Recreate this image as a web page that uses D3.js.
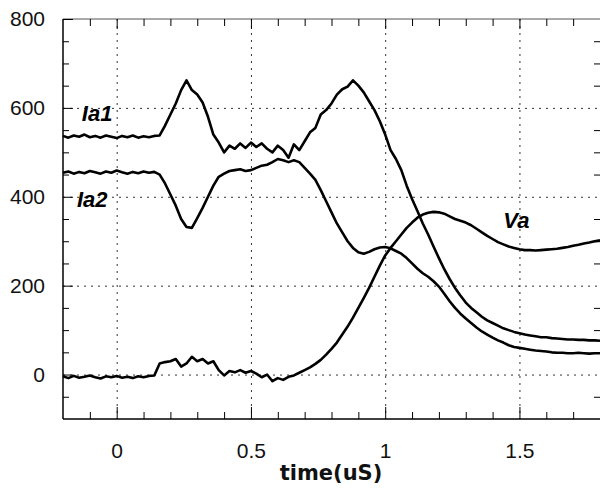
<!DOCTYPE html>
<html>
<head>
<meta charset="utf-8">
<script src="https://cdn.jsdelivr.net/npm/d3@7"></script>
<style>
  body { margin: 0; background: #fff; }
  svg { display: block; }
</style>
</head>
<body>
<div id="chart"></div>
<script>
// time axis in microseconds, one sample every 0.02 uS
const timeUs = [
  -0.20, -0.18, -0.16, -0.14, -0.12, -0.10, -0.08, -0.06, -0.04, -0.02,
  0.00, 0.02, 0.04, 0.06, 0.08, 0.10, 0.12, 0.14, 0.16, 0.18,
  0.20, 0.22, 0.24, 0.26, 0.28, 0.30, 0.32, 0.34, 0.36, 0.38,
  0.40, 0.42, 0.44, 0.46, 0.48, 0.50, 0.52, 0.54, 0.56, 0.58,
  0.60, 0.62, 0.64, 0.66, 0.68, 0.70, 0.72, 0.74, 0.76, 0.78,
  0.80, 0.82, 0.84, 0.86, 0.88, 0.90, 0.92, 0.94, 0.96, 0.98,
  1.00, 1.02, 1.04, 1.06, 1.08, 1.10, 1.12, 1.14, 1.16, 1.18,
  1.20, 1.22, 1.24, 1.26, 1.28, 1.30, 1.32, 1.34, 1.36, 1.38,
  1.40, 1.42, 1.44, 1.46, 1.48, 1.50, 1.52, 1.54, 1.56, 1.58,
  1.60, 1.62, 1.64, 1.66, 1.68, 1.70, 1.72, 1.74, 1.76, 1.78,
  1.80
];

const ia1 = [
  537, 533, 538, 535, 540, 534, 537, 533, 538, 535,
  532, 537, 534, 538, 533, 536, 534, 537, 538, 560,
  585, 610, 640, 662, 640, 630, 612, 580, 540, 522,
  500, 515, 508, 520, 510, 522, 512, 520, 508, 500,
  515, 505, 488, 518, 505, 525, 545, 555, 585, 595,
  610, 630, 642, 648, 662, 650, 635, 615, 595, 570,
  540, 505, 485, 460, 425, 395, 368, 340, 315, 288,
  262, 237, 215, 195, 178, 162, 150, 140, 130, 122,
  116, 110, 104, 100, 96, 93, 90, 88, 86, 84,
  84, 82, 81, 80, 79, 79, 78, 78, 77, 77,
  76
];

const ia2 = [
  454, 457, 452, 456, 453, 458, 455, 452, 457, 454,
  459, 455, 452, 456, 453, 457, 454, 456, 450, 430,
  405, 380, 350, 332, 330, 352, 375, 400, 425, 445,
  452, 458, 460, 462, 458, 460, 465, 470, 472, 478,
  485, 482, 478, 482, 478, 465, 452, 438, 415, 390,
  365, 340, 320, 300, 285, 275, 272, 276, 282, 286,
  287, 284, 278, 272, 262, 250, 238, 228, 220, 210,
  198, 182, 165, 150, 137, 126, 116, 106, 97, 90,
  83, 77, 72, 66, 62, 60, 58, 56, 54, 53,
  52, 50, 49, 49, 48, 48, 49, 48, 47, 48,
  48
];

const va = [
  -4, -8, -3, -7, -5, -2, -6, -9, -4, -6,
  -3, -7, -5, -8, -4, -6, -3, -2, 25, 28,
  30, 35, 18, 25, 40, 30, 35, 25, 30, 10,
  -2, 8, 5, 10, 4, 8, 2, -6, 0, -15,
  -8, -12, -5, -2, 4, 10, 16, 24, 33, 45,
  58, 72, 90, 108, 128, 150, 172, 195, 220, 245,
  268, 285, 300, 315, 330, 342, 353, 360, 364, 366,
  365, 362, 356, 350, 346, 342, 336, 328, 320, 312,
  305, 298, 293, 288, 285, 282, 280, 280, 279, 280,
  281, 282, 283, 285, 287, 290, 292, 295, 297, 300,
  302
];

const yTicks = [0, 200, 400, 600, 800];
const yMinor = [-50, 50, 100, 150, 250, 300, 350, 450, 500, 550, 650, 700, 750];
const xTicks = [0, 0.5, 1, 1.5];
const xMinor = [-0.1, 0.1, 0.2, 0.3, 0.4, 0.6, 0.7, 0.8, 0.9, 1.1, 1.2, 1.3, 1.4, 1.6, 1.7];
const gridY = [0, 200, 400, 600];

// trace labels placed near their curves (t, value)
const traceLabels = [
  { name: "Ia1", t: -0.13, v: 571 },
  { name: "Ia2", t: -0.148, v: 378 },
  { name: "Va", t: 1.44, v: 330 }
];

const width = 600, height = 493;
const margin = { top: 19, right: 0, bottom: 74, left: 63 };
const innerW = width - margin.left - margin.right;
const innerH = height - margin.top - margin.bottom;

const x = d3.scaleLinear().domain([-0.2, 1.8]).range([0, innerW]);
const y = d3.scaleLinear().domain([-100, 800]).range([innerH, 0]);

const svg = d3.select("#chart").append("svg")
  .attr("width", width)
  .attr("height", height);

const g = svg.append("g")
  .attr("transform", `translate(${margin.left},${margin.top})`);

// dotted grid
g.append("g")
  .call(d3.axisLeft(y).tickValues(gridY).tickSize(-innerW).tickFormat(""))
  .call(a => a.select(".domain").remove())
  .call(a => a.selectAll("line")
    .attr("stroke", "#333")
    .attr("stroke-dasharray", "2,5"));

g.append("g")
  .attr("transform", `translate(0,${innerH})`)
  .call(d3.axisBottom(x).tickValues(xTicks).tickSize(innerH).tickFormat(""))
  .call(a => a.select(".domain").remove())
  .call(a => a.selectAll("line")
    .attr("transform", `translate(0,${-innerH})`)
    .attr("stroke", "#333")
    .attr("stroke-dasharray", "2,5"));

// top frame
g.append("line")
  .attr("x1", 0).attr("x2", innerW).attr("y1", 0).attr("y2", 0)
  .attr("stroke", "#555").attr("stroke-width", 1);

// minor ticks on all sides
g.append("g")
  .call(d3.axisLeft(y).tickValues(yMinor).tickSize(-6).tickFormat(""))
  .call(a => a.select(".domain").remove());
g.append("g")
  .attr("transform", `translate(${innerW},0)`)
  .call(d3.axisRight(y).tickValues(yMinor).tickSize(-6).tickFormat(""))
  .call(a => a.select(".domain").remove());
g.append("g")
  .attr("transform", `translate(0,${innerH})`)
  .call(d3.axisBottom(x).tickValues(xMinor).tickSize(-7).tickFormat(""))
  .call(a => a.select(".domain").remove());
g.append("g")
  .call(d3.axisTop(x).tickValues(xMinor).tickSize(-7).tickFormat(""))
  .call(a => a.select(".domain").remove());
g.append("g")
  .call(d3.axisTop(x).tickValues(xTicks).tickSize(-10).tickFormat(""))
  .call(a => a.select(".domain").remove());

// main axes with labels
const yAxis = g.append("g")
  .call(d3.axisLeft(y).tickValues(yTicks).tickSize(-10).tickPadding(18).tickFormat(d3.format("d")));
yAxis.select(".domain").attr("stroke-width", 1.5).attr("d", `M0,0V${innerH}`);

const xAxis = g.append("g")
  .attr("transform", `translate(0,${innerH})`)
  .call(d3.axisBottom(x).tickValues(xTicks).tickSize(-12).tickPadding(24).tickFormat(d => String(d)));
xAxis.select(".domain").attr("stroke-width", 1.5).attr("d", `M0,0H${innerW}`);

g.selectAll(".tick text")
  .attr("font-family", "'Liberation Sans', Arial, sans-serif")
  .attr("font-size", "21px")
  .attr("fill", "#111");

// x axis title
svg.append("text")
  .attr("x", 331)
  .attr("y", 480)
  .attr("text-anchor", "middle")
  .attr("font-family", "'DejaVu Sans', sans-serif")
  .attr("font-weight", "bold")
  .attr("font-size", "21px")
  .attr("fill", "#111")
  .text("time(uS)");

// traces
const line = d3.line()
  .x((d, i) => x(timeUs[i]))
  .y(d => y(d));

[ia1, ia2, va].forEach(series => {
  g.append("path")
    .datum(series)
    .attr("fill", "none")
    .attr("stroke", "#000")
    .attr("stroke-width", 2.6)
    .attr("stroke-linejoin", "round")
    .attr("d", line);
});

// trace labels
g.selectAll(".trace-label")
  .data(traceLabels)
  .join("text")
  .attr("class", "trace-label")
  .attr("x", d => x(d.t))
  .attr("y", d => y(d.v))
  .attr("font-family", "'Liberation Sans', Arial, sans-serif")
  .attr("font-size", "22px")
  .attr("font-weight", "bold")
  .attr("font-style", "italic")
  .attr("fill", "#000")
  .text(d => d.name);
</script>
</body>
</html>
